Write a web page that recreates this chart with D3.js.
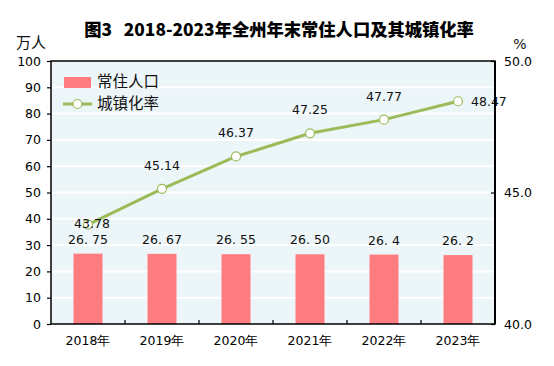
<!DOCTYPE html>
<html>
<head>
<meta charset="utf-8">
<script src="https://cdn.jsdelivr.net/npm/d3@7/dist/d3.min.js"></script>
<style>
html,body{margin:0;padding:0;background:#fff;}
svg{display:block;}
</style>
</head>
<body>
<svg id="chart" width="554" height="366"></svg>
<script>
const categories = ["2018年","2019年","2020年","2021年","2022年","2023年"];
const population = [26.75, 26.67, 26.55, 26.50, 26.4, 26.2];
const populationLabels = ["26. 75","26. 67","26. 55","26. 50","26. 4","26. 2"];
const urbanRate = [43.78, 45.14, 46.37, 47.25, 47.77, 48.47];
const leftTicks = [0,10,20,30,40,50,60,70,80,90,100];
const rightTicks = [40.0, 45.0, 50.0];
const seriesNames = ["常住人口","城镇化率"];
const titleText = "图3\u00A0\u00A0\u00A02018-2023年全州年末常住人口及其城镇化率";

const W = 554, H = 366;
const m = {left:51, top:61, right:495, bottom:324};
const svg = d3.select("#chart");
const numFont = "'DejaVu Sans', sans-serif";
const cjkFont = "'Noto Sans CJK SC', sans-serif";

const x = d3.scaleBand().domain(categories).range([m.left, m.right]).paddingInner(0).paddingOuter(0);
const yL = d3.scaleLinear().domain([0,100]).range([m.bottom, m.top]);
const yR = d3.scaleLinear().domain([40,50]).range([m.bottom, m.top]);

// plot background
svg.append("rect").attr("x",m.left).attr("y",m.top)
  .attr("width",m.right-m.left).attr("height",m.bottom-m.top)
  .attr("fill","#ECF5F8");

// gridlines
svg.append("g").selectAll("line").data(leftTicks.filter(d=>d>0 && d<100)).join("line")
  .attr("x1",m.left).attr("x2",m.right)
  .attr("y1",d=>yL(d)).attr("y2",d=>yL(d))
  .attr("stroke","#fff").attr("stroke-width",2);

// bars
const bw = 29;
svg.append("g").selectAll("rect").data(population).join("rect")
  .attr("x",(d,i)=>x(categories[i])+x.bandwidth()/2-bw/2)
  .attr("width",bw)
  .attr("y",d=>yL(d)).attr("height",d=>yL(0)-yL(d))
  .attr("fill","#FF7C80");

// bar labels
svg.append("g").selectAll("text").data(population).join("text")
  .attr("x",(d,i)=>x(categories[i])+x.bandwidth()/2)
  .attr("y",(d,i)=>yL(d)-10)
  .attr("text-anchor","middle")
  .attr("font-family",numFont).attr("font-size",12.5).attr("fill","#111")
  .text((d,i)=>populationLabels[i]);

// line
const cx = (i)=>x(categories[i])+x.bandwidth()/2;
const line = d3.line().x((d,i)=>cx(i)).y(d=>yR(d));
svg.append("path").datum(urbanRate).attr("d",line)
  .attr("fill","none").attr("stroke","#9BBB59").attr("stroke-width",3);
svg.append("g").selectAll("circle").data(urbanRate).join("circle")
  .attr("cx",(d,i)=>cx(i)).attr("cy",d=>yR(d)).attr("r",4.5)
  .attr("fill","#fff").attr("stroke","#9BBB59").attr("stroke-width",1.2);

// line labels
svg.append("g").selectAll("text").data(urbanRate).join("text")
  .attr("x",(d,i)=> i===urbanRate.length-1 ? cx(i)+13 : cx(i)+ (i===0?4:0))
  .attr("y",(d,i)=> i===0 ? yR(d)+3 : (i===urbanRate.length-1 ? yR(d)+4.5 : yR(d)-19))
  .attr("text-anchor",(d,i)=> i===urbanRate.length-1 ? "start" : "middle")
  .attr("font-family",numFont).attr("font-size",12.5).attr("fill","#111")
  .text(d=>d.toFixed(2));

// frame
svg.append("rect").attr("x",m.left).attr("y",m.top)
  .attr("width",m.right-m.left).attr("height",m.bottom-m.top)
  .attr("fill","none").attr("stroke","#000").attr("stroke-width",1.5);
svg.append("line").attr("x1",m.right).attr("x2",m.right).attr("y1",m.top).attr("y2",m.bottom)
  .attr("stroke","#000").attr("stroke-width",2);

// left axis
const axL = d3.axisLeft(yL).tickValues(leftTicks).tickSize(4).tickPadding(6).tickFormat(d3.format("d"));
const gL = svg.append("g").attr("transform",`translate(${m.left},0)`).call(axL);
gL.select(".domain").remove();
gL.selectAll("line").attr("stroke","#000").attr("stroke-width",1.2);
gL.selectAll("text").attr("font-family",numFont).attr("font-size",12.5).attr("fill","#000");

// right axis
const axR = d3.axisRight(yR).tickValues(rightTicks).tickSize(-4).tickPadding(9).tickFormat(d3.format(".1f"));
const gR = svg.append("g").attr("transform",`translate(${m.right},0)`).call(axR);
gR.select(".domain").remove();
gR.selectAll("line").attr("stroke","#000").attr("stroke-width",1.2);
gR.selectAll("text").attr("font-family",numFont).attr("font-size",12.5).attr("fill","#000");

// bottom axis
const axB = d3.axisBottom(x).tickSize(0).tickPadding(12);
const gB = svg.append("g").attr("transform",`translate(0,${m.bottom})`).call(axB);
gB.select(".domain").remove();
gB.selectAll("text").attr("font-family",numFont).attr("font-size",12.5).attr("fill","#000");
// boundary ticks (inward)
svg.append("g").selectAll("line").data(categories.slice(1)).join("line")
  .attr("x1",d=>x(d)).attr("x2",d=>x(d))
  .attr("y1",m.bottom).attr("y2",m.bottom-4)
  .attr("stroke","#000").attr("stroke-width",1.2);

// unit labels
svg.append("text").attr("x",31).attr("y",48).attr("text-anchor","middle")
  .attr("font-family",cjkFont).attr("font-size",15).attr("fill","#111").text("万人");
svg.append("text").attr("x",520).attr("y",49).attr("text-anchor","middle")
  .attr("font-family",numFont).attr("font-size",14).attr("fill","#111").text("%");

// title
svg.append("text").attr("x",279).attr("y",36).attr("text-anchor","middle")
  .attr("font-family",cjkFont).attr("font-weight","900").attr("font-size",17.3)
  .attr("fill","#000").text(titleText);

// legend
const lg = svg.append("g");
lg.append("rect").attr("x",64).attr("y",77).attr("width",27).attr("height",11).attr("fill","#FF7C80");
lg.append("text").attr("x",97).attr("y",82).attr("dy","0.35em")
  .attr("font-family",cjkFont).attr("font-size",15.5).attr("fill","#111").text(seriesNames[0]);
lg.append("line").attr("x1",63).attr("x2",92).attr("y1",104).attr("y2",104)
  .attr("stroke","#9BBB59").attr("stroke-width",3);
lg.append("circle").attr("cx",77.5).attr("cy",104).attr("r",4.5)
  .attr("fill","#fff").attr("stroke","#9BBB59").attr("stroke-width",1.2);
lg.append("text").attr("x",97).attr("y",104).attr("dy","0.35em")
  .attr("font-family",cjkFont).attr("font-size",15.5).attr("fill","#111").text(seriesNames[1]);
</script>
</body>
</html>
